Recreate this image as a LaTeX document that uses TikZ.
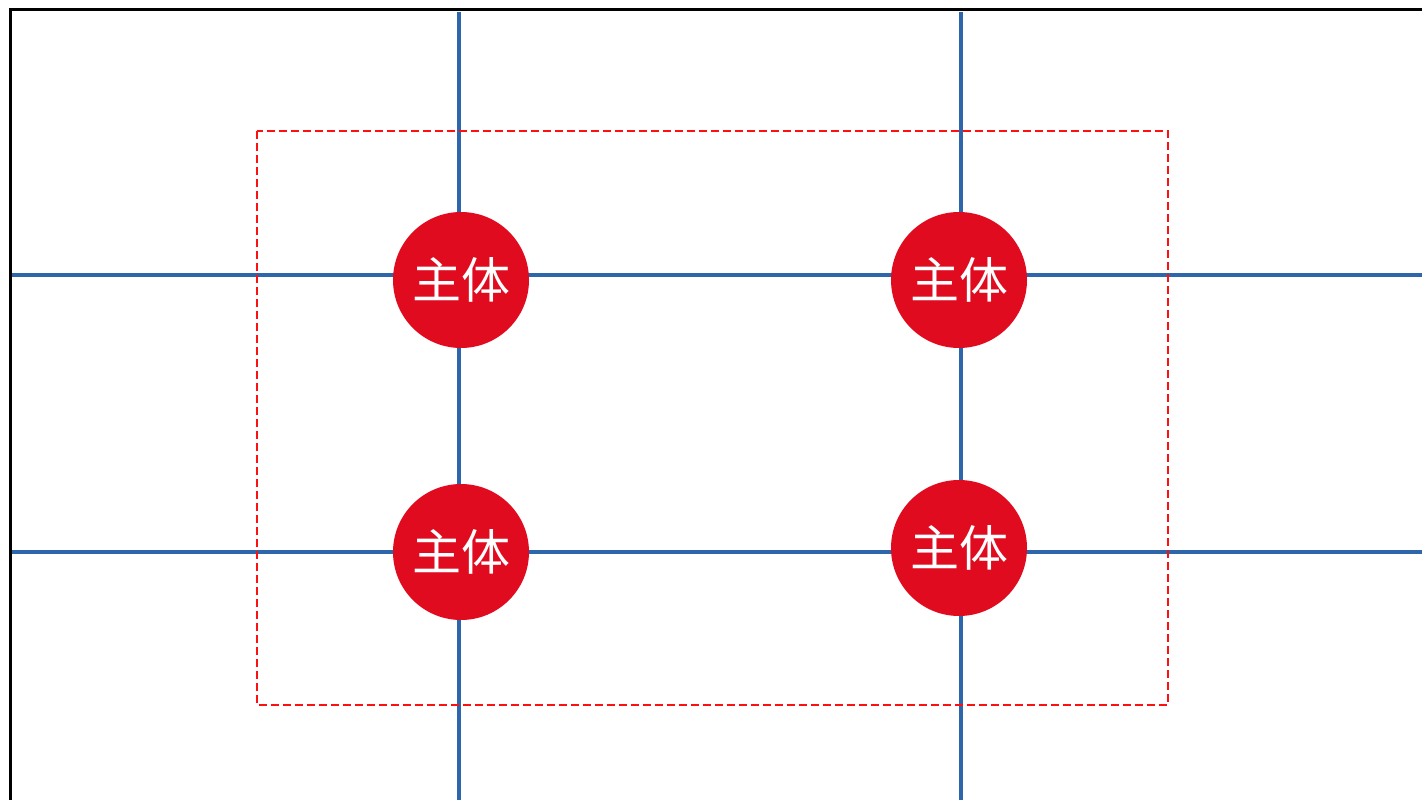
\documentclass[tikz,border=0pt]{standalone}
\usepackage{fontspec}
\newfontfamily\cjk{Noto Sans CJK SC}
\definecolor{gridblue}{HTML}{2E66AC}
\definecolor{subjred}{HTML}{E00B1F}
\definecolor{frameblk}{HTML}{000000}
\definecolor{dashred}{HTML}{FF1010}
\begin{document}
\begin{tikzpicture}[x=1pt,y=-1pt,
  gridline/.style={draw=gridblue,line width=4pt},
  subject/.style={circle,fill=subjred,minimum size=136pt,inner sep=0pt,
    text=white,font=\cjk\fontsize{49}{49}\selectfont},
  focusbox/.style={draw=dashred,line width=2pt,dash pattern=on 8pt off 4pt},
  frameline/.style={draw=frameblk,line width=3pt}]
  \useasboundingbox (0,0) rectangle (1422,800);
  % grid end points
  \coordinate (v1t) at (459,12);  \coordinate (v1b) at (459,800);
  \coordinate (v2t) at (961,12);  \coordinate (v2b) at (961,800);
  \coordinate (h1l) at (11,275);  \coordinate (h1r) at (1422,275);
  \coordinate (h2l) at (11,552);  \coordinate (h2r) at (1422,552);
  % thirds grid
  \draw[gridline] (v1t) -- (v1b);
  \draw[gridline] (v2t) -- (v2b);
  \draw[gridline] (h1l) -- (h1r);
  \draw[gridline] (h2l) -- (h2r);
  % outer frame (top and left edges)
  \coordinate (fl) at (10,800);
  \coordinate (fc) at (10,10);
  \coordinate (fr) at (1422,10);
  \draw[frameline] (fl) -- (fc) -- (fr);
  % focus area
  \coordinate (ba) at (257,131);
  \coordinate (bb) at (1168,705);
  \draw[focusbox] (ba) rectangle (bb);
  % subjects at the intersections
  \node[subject] (s1) at (461,280) {主体};
  \node[subject] (s2) at (959,280) {主体};
  \node[subject] (s3) at (461,552) {主体};
  \node[subject] (s4) at (959,548) {主体};
\end{tikzpicture}
\end{document}
